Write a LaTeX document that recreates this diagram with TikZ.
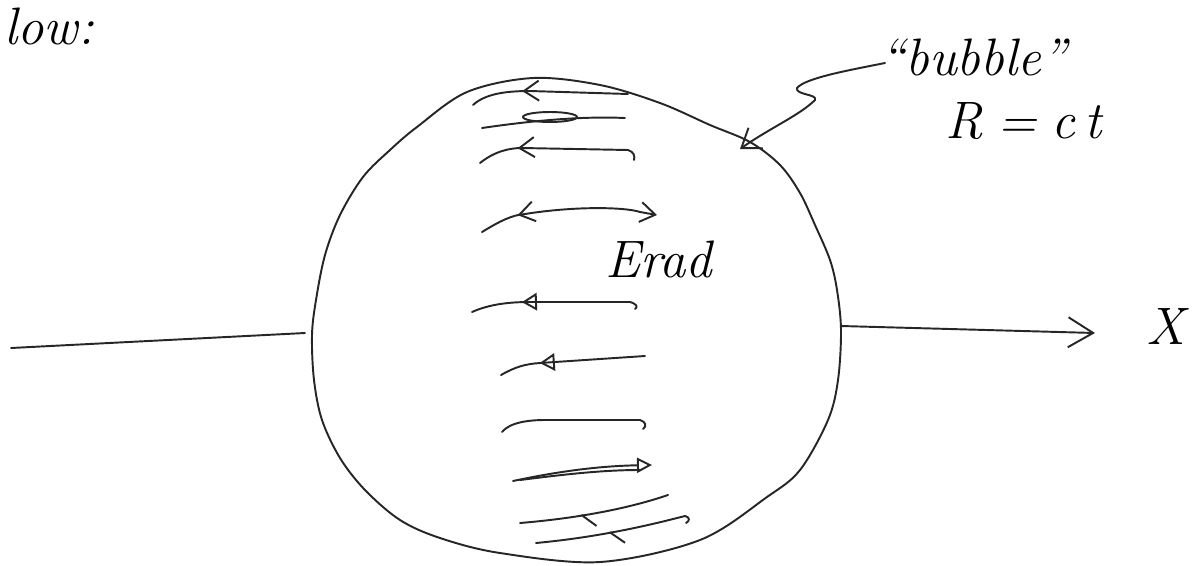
\documentclass[tikz,border=0pt]{standalone}
\usepackage{tikz}
\usetikzlibrary{arrows.meta,decorations.markings}

\tikzset{
  pen/.style={line width=1.1pt, line cap=round, line join=round, black!85},
  hand/.style={font=\fontsize{30}{36}\selectfont\itshape, inner sep=0pt},
  vleft/.style={postaction={decorate}, decoration={markings,
      mark=at position #1 with {\arrowreversed{Straight Barb[length=3mm,width=4mm]}}}},
  tleft/.style={postaction={decorate}, decoration={markings,
      mark=at position #1 with {\arrowreversed{Triangle[open,length=3mm,width=3.5mm]}}}},
  hleft/.style={postaction={decorate}, decoration={markings,
      mark=at position #1 with {\arrowreversed{Straight Barb[harpoon,swap,length=2.5mm,width=5mm]}}}},
}

\begin{document}
\begin{tikzpicture}[x=0.02cm, y=-0.02cm]
    \useasboundingbox (0,0) rectangle (1196,565);

    % labels
    \node [hand, anchor=base west] (low) at (4,44) {low:};
    \node [hand, anchor=base west] (bubblelbl) at (880,75) {``bubble''};
    \node [hand, anchor=base west] (rlbl) at (945,138) {R\;=\;c\,t};
    \node [hand, anchor=base west] (erad) at (605,277) {Erad};
    \node [hand, anchor=base west] (xlbl) at (1146,344) {X};

    \coordinate (axisL) at (11,348);
    \coordinate (axisM) at (305,333);
    \coordinate (bubE) at (841,326);
    \coordinate (axisR) at (1095,333);
    \coordinate (lead) at (885,63);
    \coordinate (bubNE) at (740,149);

    % the bubble
    \draw [pen] plot [smooth cycle, tension=0.55] coordinates {
        (312,335) (316,300) (325,255) (340,215) (363,177) (390,150) (417,127)
        (467,92) (533,78) (600,85) (660,103) (710,125) (750,142) (780,165)
        (800,193) (815,225) (830,260) (837,290) (841,330) (838,380) (828,420)
        (800,470) (767,497) (700,540) (600,562) (500,553) (440,538) (400,520)
        (365,490) (340,458) (322,420) (314,380)};

    % axis
    \draw [pen] (axisL) -- (axisM);
    \draw [pen, -{Straight Barb[length=5mm,width=6mm]}] (bubE) -- (axisR);

    % pointer to the bubble
    \draw [pen, -{Straight Barb[length=3.5mm,width=5mm]}] (lead)
        .. controls (850,70) and (805,78) .. (797,88)
        .. controls (795,95) and (818,94) .. (815,100)
        .. controls (800,115) and (770,128) .. (bubNE);

    % field lines
    \draw [pen, vleft=0.33] (473,105) .. controls (485,94) and (505,91) .. (530,91) -- (628,94);
    \draw [pen] (482,128) .. controls (530,121) and (580,116) .. (625,118);
    \draw [pen] (550,117) ellipse [x radius=27, y radius=5];
    \draw [pen, vleft=0.25] (480,163) .. controls (495,151) and (510,148) .. (522,148)
        -- (628,150) .. controls (634,152) and (635,156) .. (634,160);
    \draw [pen, vleft=0.22, -{Straight Barb[length=3mm,width=4mm]}] (482,232)
        .. controls (500,221) and (512,215) .. (525,214)
        .. controls (575,206) and (625,207) .. (640,212) -- (657,215);
    \draw [pen, tleft=0.30] (472,312) .. controls (490,304) and (510,302) .. (530,302)
        -- (630,302) .. controls (637,304) and (638,307) .. (635,309);
    \draw [pen, tleft=0.28] (501,375) .. controls (515,367) and (525,364) .. (540,363) -- (645,356);
    \draw [pen] (502,432) .. controls (510,422) and (530,420) .. (545,420)
        -- (640,420) .. controls (646,422) and (647,426) .. (643,429);
    \draw [pen, -{Triangle[open,length=3mm,width=3mm]}] (513,481)
        .. controls (560,471) and (600,466) .. (652,465);
    \draw [pen] (520,480) .. controls (560,475) and (600,470) .. (640,470);
    \draw [pen, hleft=0.4] (520,523) .. controls (580,518) and (630,508) .. (668,495);
    \draw [pen, hleft=0.45] (536,543) .. controls (600,537) and (650,525) .. (685,516)
        .. controls (690,517) and (690,521) .. (686,523);
\end{tikzpicture}
\end{document}
